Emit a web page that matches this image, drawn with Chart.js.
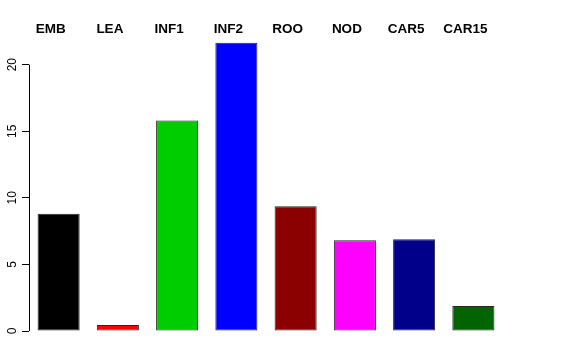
<!DOCTYPE html>
<html>
<head>
<meta charset="utf-8">
<script src="https://cdn.jsdelivr.net/npm/chart.js@4"></script>
<style>
  html, body { margin: 0; padding: 0; background: #fff; }
  #wrap { width: 576px; height: 360px; }
</style>
</head>
<body>
<div id="wrap"><canvas id="myBarChart" width="576" height="360"></canvas></div>
<script>
const categories = ["EMB", "LEA", "INF1", "INF2", "ROO", "NOD", "CAR5", "CAR15"];
const values = [8.8, 0.45, 15.8, 21.65, 9.37, 6.82, 6.89, 1.88];
const barColors = ["#000000", "#FF0000", "#00CD00", "#0000FF", "#8B0000", "#FF00FF", "#00008B", "#006400"];
const yTicks = [0, 5, 10, 15, 20];

// R style y axis line: only from first to last tick
const axisLine = {
    id: "axisLine",
    afterDraw(chart) {
        const y = chart.scales.y;
        const c = chart.ctx;
        c.save();
        c.strokeStyle = "#000";
        c.lineWidth = 1;
        c.beginPath();
        c.moveTo(Math.round(y.right) + 0.5, y.getPixelForValue(yTicks[0]));
        c.lineTo(Math.round(y.right) + 0.5, y.getPixelForValue(yTicks[yTicks.length - 1]));
        c.stroke();
        c.restore();
    },
};

const ctx = document.getElementById("myBarChart").getContext("2d");

new Chart(ctx, {
    type: "bar",
    data: {
        labels: categories,
        datasets: [
            {
                data: values,
                backgroundColor: barColors,
                borderColor: "rgba(0, 0, 0, 0.85)",
                borderWidth: 1,
                borderSkipped: false,
                barPercentage: 0.71,
                categoryPercentage: 1,
            },
        ],
    },
    options: {
        responsive: false,
        animation: false,
        layout: {
            padding: { left: 0, right: 73, top: 0, bottom: 29 },
        },
        plugins: {
            legend: { display: false },
            tooltip: { enabled: false },
        },
        scales: {
            x: {
                position: "top",
                grid: { display: false, drawTicks: false },
                border: { display: false },
                ticks: {
                    color: "#000",
                    font: { family: "Liberation Sans", size: 13.5, weight: "bold" },
                    padding: 1,
                    labelOffset: -8,
                    maxRotation: 0,
                    autoSkip: false,
                },
                afterFit(scale) {
                    scale.height = 38;
                },
            },
            y: {
                min: 0,
                max: 22,
                grid: {
                    drawOnChartArea: false,
                    tickLength: 7,
                    color: "#000",
                },
                border: { display: false },
                ticks: {
                    color: "#000",
                    font: { family: "Liberation Sans", size: 12 },
                    minRotation: 90,
                    maxRotation: 90,
                    crossAlign: "center",
                    padding: 3,
                },
                afterBuildTicks(scale) {
                    scale.ticks = yTicks.map((v) => ({ value: v }));
                },
                afterFit(scale) {
                    scale.width = 29;
                },
            },
        },
    },
    plugins: [axisLine],
});
</script>
</body>
</html>
